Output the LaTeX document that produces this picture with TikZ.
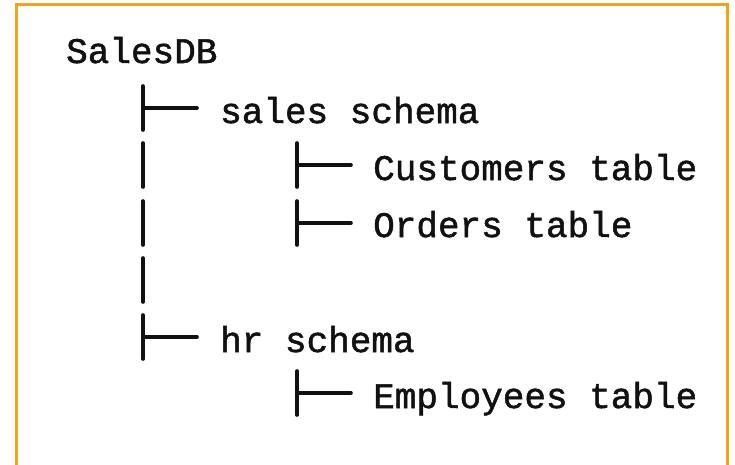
\documentclass[tikz,border=0pt]{standalone}
\usepackage{fontspec}
\setmonofont[FakeBold=1.4]{Liberation Mono}
\definecolor{frameorange}{HTML}{F0A417}
\definecolor{inkblack}{HTML}{111111}
\begin{document}
\begin{tikzpicture}[x=1pt,y=-1pt,
  label/.style={anchor=base west, inner sep=0pt, font=\ttfamily\fontsize{36}{40}\selectfont, text=inkblack},
  branch/.style={draw=inkblack, line width=3.6pt, line cap=round},
  frame/.style={draw=frameorange, line width=2.2pt}]
\useasboundingbox (0,0) rectangle (735,464);
\fill[white] (0,0) rectangle (735,464);
\draw[frame] (16.5,470) -- (16.5,4.5) -- (727.5,4.5) -- (727.5,470);

% texts
\node[label] (db)   at (66,63)  {SalesDB};
\node[label] (ss)   at (220,123) {sales schema};
\node[label] (cust) at (373,180) {Customers table};
\node[label] (ord)  at (373,237) {Orders table};
\node[label] (hr)   at (220,352) {hr schema};
\node[label] (emp)  at (373,408) {Employees table};

% level 1 branch glyphs
\coordinate (l1ss)  at (143,108);
\coordinate (l1c)   at (143,165);
\coordinate (l1o)   at (143,223);
\coordinate (l1e)   at (143,280);
\coordinate (l1hr)  at (143,337);
\draw[branch] ([yshift=-22]l1ss) -- ([yshift=22]l1ss);
\draw[branch] (l1ss) -- (197,108);
\draw[branch] ([yshift=-22]l1c) -- ([yshift=22]l1c);
\draw[branch] ([yshift=-22]l1o) -- ([yshift=22]l1o);
\draw[branch] ([yshift=-22]l1e) -- ([yshift=22]l1e);
\draw[branch] ([yshift=-22]l1hr) -- ([yshift=22]l1hr);
\draw[branch] (l1hr) -- (197,337);

% level 2 branch glyphs
\coordinate (l2c) at (297,165);
\coordinate (l2o) at (297,223);
\coordinate (l2e) at (297,393);
\draw[branch] ([yshift=-22]l2c) -- ([yshift=22]l2c);
\draw[branch] (l2c) -- (351,165);
\draw[branch] ([yshift=-22]l2o) -- ([yshift=22]l2o);
\draw[branch] (l2o) -- (351,223);
\draw[branch] ([yshift=-22]l2e) -- ([yshift=22]l2e);
\draw[branch] (l2e) -- (351,393);
\end{tikzpicture}
\end{document}
